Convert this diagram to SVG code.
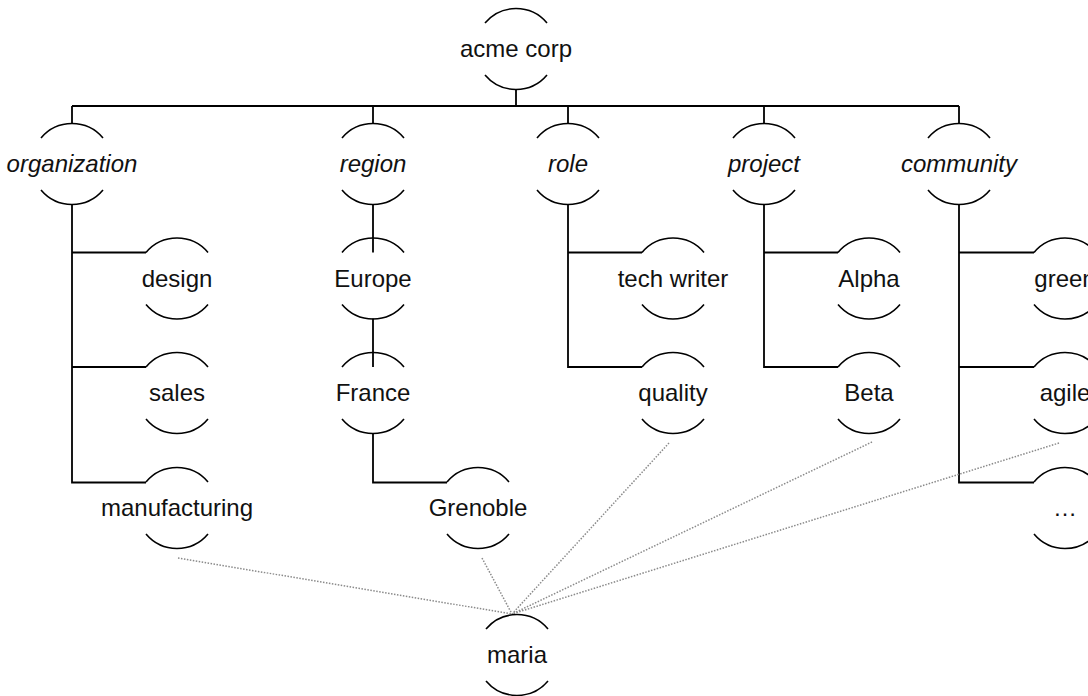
<svg xmlns="http://www.w3.org/2000/svg" width="1088" height="696" viewBox="0 0 1088 696">
<style>
.arc{fill:none;stroke:#000;stroke-width:1.6}
.tree{fill:none;stroke:#000;stroke-width:1.8}
.dot{fill:none;stroke:#8a8a8a;stroke-width:1.5;stroke-dasharray:1.5 1.5}
text{font-family:"Liberation Sans",Arial,sans-serif;font-size:24px;fill:#111;text-anchor:middle}
.it{font-style:italic}
</style>
<defs>
<path id="n" class="arc" d="M-31,-26 A40.5,40.5 0 0 1 31,-26 M-31,26 A40.5,40.5 0 0 0 31,26"/>
</defs>
<g id="connectors">
<path class="tree" d="M516,89.5 V106 M72,106 H959 M72,106 V123.5 M373,106 V123.5 M568,106 V123.5 M764,106 V123.5 M959,106 V123.5"/>
<path class="tree" d="M72,204.5 V482.5 H146 M72,252.5 H146 M72,367 H146"/>
<path class="tree" d="M373,204.5 V252.5 M373,318.5 V367 M373,433.5 V482.5 H447"/>
<path class="tree" d="M568,204.5 V367 H642 M568,252.5 H642"/>
<path class="tree" d="M764,204.5 V367 H838 M764,252.5 H838"/>
<path class="tree" d="M959,204.5 V482.5 H1034 M959,252.5 H1034 M959,367 H1034"/>
<path class="dot" d="M178,558 L512,614 M482,558 L512,614 M669,443 L512,614 M872,442 L512,614 M1059,443 L512,614"/>
</g>
<g id="acme"><use href="#n" x="516" y="49"/><text x="516" y="57">acme corp</text></g>
<g id="organization"><use href="#n" x="72" y="164"/><text class="it" x="72" y="172">organization</text></g>
<g id="region"><use href="#n" x="373" y="164"/><text class="it" x="373" y="172">region</text></g>
<g id="role"><use href="#n" x="568" y="164"/><text class="it" x="568" y="172">role</text></g>
<g id="project"><use href="#n" x="764" y="164"/><text class="it" x="764" y="172">project</text></g>
<g id="community"><use href="#n" x="959" y="164"/><text class="it" x="959" y="172">community</text></g>
<g id="design"><use href="#n" x="177" y="278.5"/><text x="177" y="286.5">design</text></g>
<g id="sales"><use href="#n" x="177" y="393"/><text x="177" y="401">sales</text></g>
<g id="manufacturing"><use href="#n" x="177" y="508"/><text x="177" y="516">manufacturing</text></g>
<g id="europe"><use href="#n" x="373" y="278.5"/><text x="373" y="286.5">Europe</text></g>
<g id="france"><use href="#n" x="373" y="393"/><text x="373" y="401">France</text></g>
<g id="grenoble"><use href="#n" x="478" y="508"/><text x="478" y="516">Grenoble</text></g>
<g id="techwriter"><use href="#n" x="673" y="278.5"/><text x="673" y="286.5">tech writer</text></g>
<g id="quality"><use href="#n" x="673" y="393"/><text x="673" y="401">quality</text></g>
<g id="alpha"><use href="#n" x="869" y="278.5"/><text x="869" y="286.5">Alpha</text></g>
<g id="beta"><use href="#n" x="869" y="393"/><text x="869" y="401">Beta</text></g>
<g id="green"><use href="#n" x="1065" y="278.5"/><text x="1065" y="286.5">green</text></g>
<g id="agile"><use href="#n" x="1065" y="393"/><text x="1065" y="401">agile</text></g>
<g id="more"><use href="#n" x="1065" y="508"/><text x="1065" y="516">…</text></g>
<g id="maria"><use href="#n" x="517" y="655"/><text x="517" y="663">maria</text></g>
</svg>
